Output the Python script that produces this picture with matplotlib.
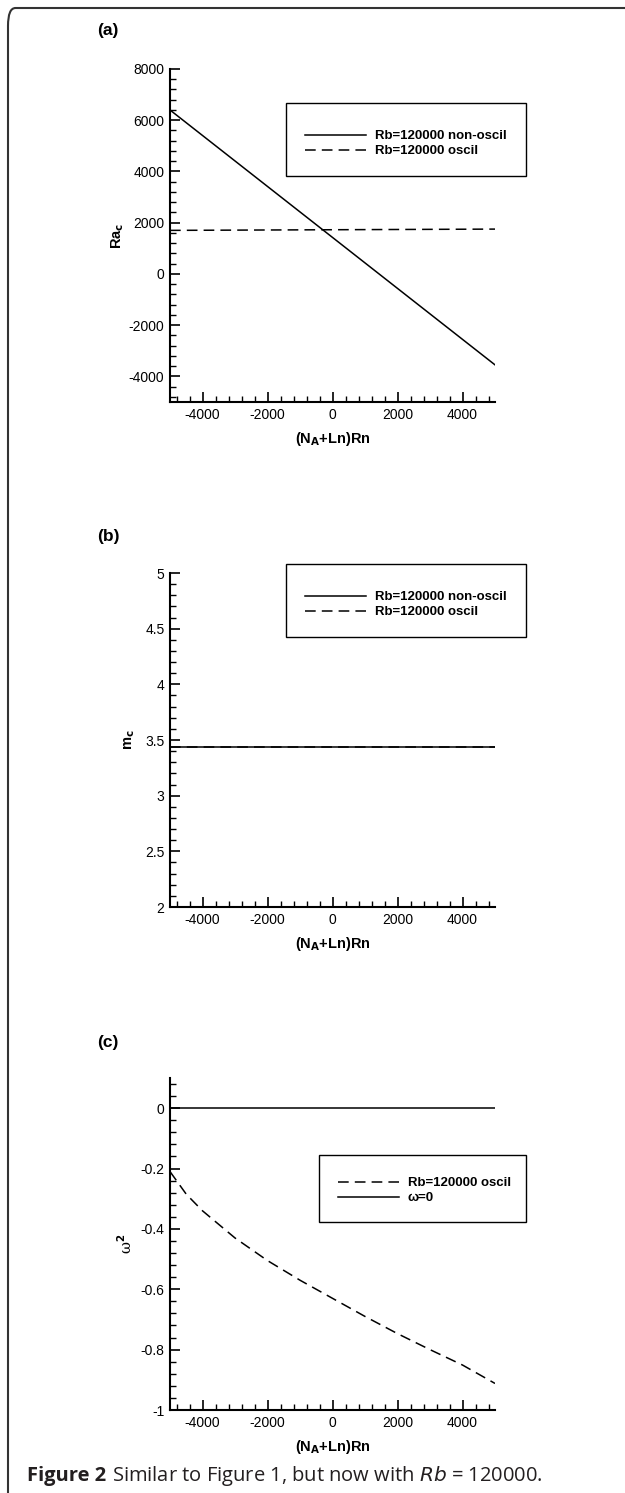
import matplotlib
matplotlib.use("Agg")
from matplotlib import pyplot as plt
from matplotlib.ticker import MultipleLocator
from matplotlib.patches import FancyBboxPatch, Rectangle

plt.rcParams["font.family"] = ["Liberation Sans", "DejaVu Sans"]
plt.rcParams["axes.unicode_minus"] = False

# data
x_line = [-5000, 5000]
ra_nonoscil = [6400, -3550]
ra_oscil = [1700, 1750]

m_nonoscil = [3.44, 3.44]
m_oscil = [3.44, 3.44]

x_omega = [-5000, -4500, -4000, -3000, -2000, -1000, 0, 1000, 2000, 3000, 4000, 5000]
omega2_oscil = [-0.21, -0.285, -0.34, -0.43, -0.505, -0.57, -0.63, -0.69, -0.747, -0.80, -0.851, -0.912]
omega_zero = [0, 0]

W, H = 625, 1493
fig = plt.figure(figsize=(W / 100, H / 100), dpi=100)


def px_axes(left, top, right, bottom):
    return fig.add_axes([left / W, 1 - bottom / H, (right - left) / W, (bottom - top) / H])


def style(ax, ymaj, ymin):
    for s in ["top", "right"]:
        ax.spines[s].set_visible(False)
    for s in ["left", "bottom"]:
        ax.spines[s].set_linewidth(1.5)
    ax.set_xlim(-5000, 5000)
    ax.xaxis.set_major_locator(MultipleLocator(2000))
    ax.xaxis.set_minor_locator(MultipleLocator(400))
    ax.yaxis.set_major_locator(MultipleLocator(ymaj))
    ax.yaxis.set_minor_locator(MultipleLocator(ymin))
    ax.tick_params(which="major", direction="in", length=7, width=1.2, labelsize=10, pad=4)
    ax.tick_params(which="minor", direction="in", length=4, width=1.0)
    ax.set_xticks([-4000, -2000, 0, 2000, 4000])
    ax.set_xlabel("(N$_\\mathbf{A}$+Ln)Rn", fontsize=10.5, fontweight="bold", labelpad=6)


def legend_box(ax, left, top, right, bottom, handles, labels, ytext):
    rect = Rectangle((left / W, 1 - bottom / H), (right - left) / W, (bottom - top) / H,
                     transform=fig.transFigure, fill=False, edgecolor="black", linewidth=1.0)
    fig.patches.append(rect)
    fig.legend(handles, labels, loc="upper left", bbox_to_anchor=(left / W + 19 / W, 1 - ytext / H),
               bbox_transform=fig.transFigure, frameon=False, handlelength=4.6,
               handletextpad=0.7, labelspacing=0.22, borderpad=0, borderaxespad=0,
               prop={"weight": "bold", "size": 9.5})


# (a)
ax1 = px_axes(170, 69, 495, 402)
h1, = ax1.plot(x_line, ra_nonoscil, color="black", lw=1.1)
h2, = ax1.plot(x_line, ra_oscil, color="black", lw=1.1, dashes=(7, 4))
ax1.set_ylim(-5000, 8000)
style(ax1, 2000, 400)
ax1.set_ylabel("Ra$_\\mathbf{c}$", fontsize=10.5, fontweight="bold", labelpad=2)
legend_box(ax1, 286, 103, 526, 176,
           [h1, h2], ["Rb=120000 non-oscil", "Rb=120000 oscil"], 130)

# (b)
ax2 = px_axes(170, 573, 495, 907)
h3, = ax2.plot(x_line, m_nonoscil, color="black", lw=1.1)
h4, = ax2.plot(x_line, m_oscil, color="black", lw=1.1, dashes=(7, 4))
ax2.set_ylim(2, 5)
style(ax2, 0.5, 0.1)
ax2.set_yticks([2, 2.5, 3, 3.5, 4, 4.5, 5])
ax2.set_yticklabels(["2", "2.5", "3", "3.5", "4", "4.5", "5"])
ax2.set_ylabel("m$_\\mathbf{c}$", fontsize=10.5, fontweight="bold", labelpad=6)
legend_box(ax2, 286, 564, 526, 637,
           [h3, h4], ["Rb=120000 non-oscil", "Rb=120000 oscil"], 591)

# (c)
ax3 = px_axes(170, 1078, 495, 1410)
h5, = ax3.plot(x_omega, omega2_oscil, color="black", lw=1.1, dashes=(7, 4))
h6, = ax3.plot(x_line, omega_zero, color="black", lw=1.1)
ax3.set_ylim(-1, 0.1)
style(ax3, 0.2, 0.04)
ax3.set_yticks([-1, -0.8, -0.6, -0.4, -0.2, 0])
ax3.set_yticklabels(["-1", "-0.8", "-0.6", "-0.4", "-0.2", "0"])
ax3.set_ylabel("\u03c9$^{\\mathbf{2}}$", fontsize=10.5, family="DejaVu Serif", labelpad=4)
legend_box(ax3, 319, 1155, 526, 1222,
           [h5, h6], ["Rb=120000 oscil", "\u03c9=0"], 1177)

# panel letters
for lab, y in [("(a)", 30), ("(b)", 537), ("(c)", 1043)]:
    fig.text(97 / W, 1 - y / H, lab, fontsize=12.5, fontweight="bold", va="center", ha="left")

# outer frame and caption
frame = FancyBboxPatch((8 / W, -20 / H), (W + 20) / W, (H - 8 + 20) / H,
                       boxstyle="round,pad=0,rounding_size=0.012", transform=fig.transFigure,
                       fill=False, edgecolor="#333333", linewidth=1.5)
fig.patches.append(frame)

fig.text(27 / W, 1 - 1476 / H, "Figure 2", family="Open Sans", fontweight="bold",
         fontsize=14.5, color="#231f20", va="center", ha="left")
fig.text(112 / W, 1 - 1476 / H, "Similar to Figure 1, but now with $\\mathit{Rb}$ = 120000.",
         family="Open Sans", fontsize=14.5, color="#231f20", va="center", ha="left")

plt.savefig("out.png", dpi=100)
